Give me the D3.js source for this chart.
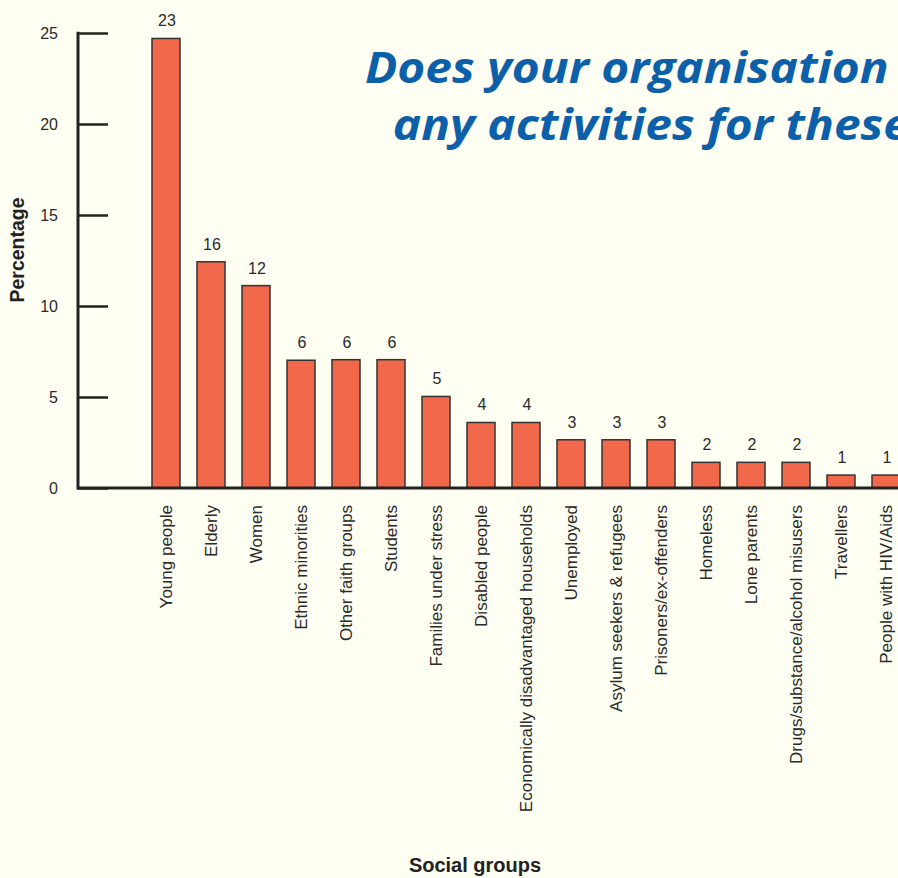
<!DOCTYPE html>
<html>
<head>
<meta charset="utf-8">
<script src="https://cdn.jsdelivr.net/npm/d3@7"></script>
<style>
  html, body { margin: 0; padding: 0; background: #fefef3; overflow: hidden; }
  svg { display: block; }
</style>
</head>
<body>
<svg id="chart" width="898" height="878"></svg>
<script>
const categories = [
  "Young people", "Elderly", "Women", "Ethnic minorities", "Other faith groups",
  "Students", "Families under stress", "Disabled people",
  "Economically disadvantaged households", "Unemployed",
  "Asylum seekers & refugees", "Prisoners/ex-offenders", "Homeless",
  "Lone parents", "Drugs/substance/alcohol misusers", "Travellers",
  "People with HIV/Aids"
];
// bar heights as drawn in the picture
const barValues = [24.7, 12.43, 11.12, 7.02, 7.05, 7.05, 5.03, 3.6, 3.6, 2.65, 2.65, 2.65, 1.41, 1.41, 1.41, 0.71, 0.71];
// value labels as printed above the bars
const valueLabels = ["23", "16", "12", "6", "6", "6", "5", "4", "4", "3", "3", "3", "2", "2", "2", "1", "1"];
const yTicks = [0, 5, 10, 15, 20, 25];
const titleLines = ["Does your organisation", "any activities for these"];

const svg = d3.select("#chart");
const font = "'Liberation Sans', Arial, Helvetica, sans-serif";

const y = d3.scaleLinear().domain([0, 25]).range([488, 33]);
const x = d3.scaleBand().domain(categories).range([143.5, 908.5])
  .paddingInner(17 / 45).paddingOuter(17 / 90);

// title (horizontally stretched to match the wide italic face)
const tg = svg.append("g").attr("transform", "translate(366,0) scale(1.113,1)");
const title = tg.append("text")
  .attr("font-family", "'Open Sans', 'Noto Sans', sans-serif")
  .attr("font-weight", 700).attr("font-style", "italic")
  .attr("font-size", 43).attr("fill", "#0b60a9");
title.append("tspan").attr("x", -1).attr("y", 83).text(titleLines[0]);
title.append("tspan").attr("x", 24).attr("y", 140).text(titleLines[1]);

// bars
svg.append("g").selectAll("rect").data(categories).join("rect")
  .attr("x", d => x(d))
  .attr("y", (d, i) => y(barValues[i]))
  .attr("width", x.bandwidth())
  .attr("height", (d, i) => y(0) - y(barValues[i]))
  .attr("fill", "#f2684b")
  .attr("stroke", "#333")
  .attr("stroke-width", 1.5);

// value labels
svg.append("g").selectAll("text").data(categories).join("text")
  .attr("x", d => x(d) + x.bandwidth() / 2 + 1)
  .attr("y", (d, i) => y(barValues[i]) - 12)
  .attr("text-anchor", "middle")
  .attr("font-family", font).attr("font-size", 16).attr("fill", "#2a2a2a")
  .text((d, i) => valueLabels[i]);

// y axis
const yAxis = d3.axisRight(y).tickValues(yTicks).tickSize(30).tickFormat("");
const yg = svg.append("g").attr("transform", "translate(78,0)").call(yAxis);
yg.select(".domain").remove();
yg.selectAll(".tick line").attr("stroke", "#222").attr("stroke-width", 2.5);
svg.append("line").attr("x1", 78).attr("x2", 78).attr("y1", y(25) - 1.25).attr("y2", y(0) + 1.5)
  .attr("stroke", "#222").attr("stroke-width", 3);
svg.append("g").selectAll("text").data(yTicks).join("text")
  .attr("x", 58).attr("y", d => y(d) + 6)
  .attr("text-anchor", "end")
  .attr("font-family", font).attr("font-size", 16).attr("fill", "#2a2a2a")
  .text(d => d);

// x axis
const xAxis = d3.axisBottom(x).tickSize(0).tickPadding(0);
const xg = svg.append("g").attr("transform", `translate(0,${y(0)})`).call(xAxis);
xg.select(".domain").remove();
svg.append("line").attr("x1", 77).attr("x2", 898).attr("y1", y(0)).attr("y2", y(0))
  .attr("stroke", "#222").attr("stroke-width", 3);
xg.selectAll(".tick text")
  .attr("font-family", font).attr("font-size", 17).attr("fill", "#2a2a2a")
  .attr("text-anchor", "end")
  .attr("transform", "rotate(-90)")
  .attr("x", -17).attr("y", 0).attr("dy", "0.35em");

// axis titles
svg.append("text")
  .attr("transform", "translate(24,250) rotate(-90)")
  .attr("text-anchor", "middle")
  .attr("font-family", font).attr("font-weight", 700).attr("font-size", 19.5).attr("fill", "#222")
  .text("Percentage");
svg.append("text")
  .attr("x", 475).attr("y", 872)
  .attr("text-anchor", "middle")
  .attr("font-family", font).attr("font-weight", 700).attr("font-size", 20).attr("fill", "#222")
  .text("Social groups");
</script>
</body>
</html>
